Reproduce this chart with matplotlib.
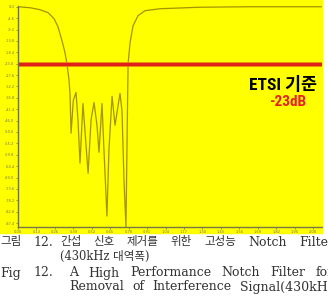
import matplotlib.pyplot as plt
from matplotlib.patches import Rectangle
import numpy as np

# 주파수 (kHz, 화면 왼쪽 끝 기준) 와 감쇠량 (dB) - 그림에서 읽은 값
freq = [0, 85, 155, 212, 254, 282, 310, 331, 345, 360, 367, 374, 390, 409, 423,
        437, 458, 472, 494, 515, 536, 557, 571, 592, 606, 627, 641, 663, 684,
        719, 733, 747, 761, 768, 776, 790, 811, 846, 895, 1001, 1283, 1636, 2150]
gain = [0.0, -0.4, -1.2, -2.4, -4.8, -8.1, -13.7, -18.5, -23.0, -29.8, -35.8,
        -51.1, -37.8, -34.6, -46.0, -63.2, -39.1, -50.0, -67.3, -45.7, -38.7,
        -48.0, -58.8, -39.1, -58.0, -84.6, -58.0, -36.2, -47.9, -35.0, -42.0,
        -70.0, -89.0, -58.0, -23.0, -14.5, -7.7, -3.6, -1.6, -0.8, -0.2, 0.0, 0.0]

etsi_level = -23
xticks = np.arange(0, 2081, 130)
yticks = np.arange(0, -88, -4.6)

cap1 = ["간섭", "신호", "제거를", "위한", "고성능", "Notch", "Filter"]
cap2 = "(430kHz 대역폭)"
cap3 = ["A", "High", "Performance", "Notch", "Filter", "for"]
cap4 = ["Removal", "of", "Interference", "Signal(430kHz"]

W, H = 328, 308
fig = plt.figure(figsize=(W / 100, H / 100), dpi=100)
fig.patches.append(Rectangle((0, 1 - 233 / H), 322 / W, 233 / H,
                             transform=fig.transFigure, color="#ffff00", zorder=-5))

ax = fig.add_axes([18 / W, 1 - 227 / H, (322 - 18) / W, (227 - 6) / H])
ax.set_zorder(2)
ax.set_facecolor("#ffff00")
ax.plot(freq, gain, color="#a39400", linewidth=0.9)
ax.axhline(etsi_level, color="#f08010", linewidth=3.4)
ax.axhline(etsi_level, color="#e0201a", linewidth=2.2)

ax.set_xlim(0, 2143)
ax.set_ylim(-89, 0.3)
ax.set_xticks(xticks)
ax.set_xticklabels([f"{v/1000:.2f}" for v in xticks])
ax.set_yticks(yticks)
ax.set_yticklabels([f"{v:.1f}" for v in yticks])
ax.tick_params(labelsize=2.6, labelcolor="#777755", length=1.5, width=0.5,
               color="#666644", pad=1)
for s in ["top", "right"]:
    ax.spines[s].set_visible(False)
for s in ["left", "bottom"]:
    ax.spines[s].set_color("#777744")
    ax.spines[s].set_linewidth(1.0)

fnt = ["Roboto Condensed", "Liberation Sans Narrow", "Noto Sans CJK KR"]
fig.text(283 / W, 1 - 85 / H, "ETSI 기준", ha="center", va="center", zorder=5,
         fontsize=12.5, fontweight="bold", family=fnt, color="black")
fig.text(288 / W, 1 - 102 / H, "-23dB", ha="center", va="center", zorder=5,
         fontsize=11, fontweight="bold", family=fnt, color="#e8201a")

# 캡션 (양쪽 정렬)
serif = ["DejaVu Serif", "Noto Sans CJK KR"]
renderer = fig.canvas.get_renderer()


def word(s, x, y):
    hangul = any("\uac00" <= ch <= "\ud7a3" for ch in s)
    return fig.text(x / W, 1 - y / H, s, ha="left", va="center",
                    fontsize=8.3 if hangul else 9.0, family=serif, color="#333333")


def justify(words, x0, x1, y):
    ts = [word(w, 0, y) for w in words]
    widths = [t.get_window_extent(renderer).width for t in ts]
    gap = (x1 - x0 - sum(widths)) / max(len(words) - 1, 1)
    x = x0
    for t, w in zip(ts, widths):
        t.set_x(x / W)
        x += w + gap


word("그림", 0, 242)
word("12.", 33, 242)
justify(cap1, 60, 334, 242)
word(cap2, 60, 256)
word("Fig", 0, 273)
word("12.", 33, 273)
justify(cap3, 69, 334, 273)
justify(cap4, 69, 334, 287)

fig.savefig("out.png", dpi=100)
